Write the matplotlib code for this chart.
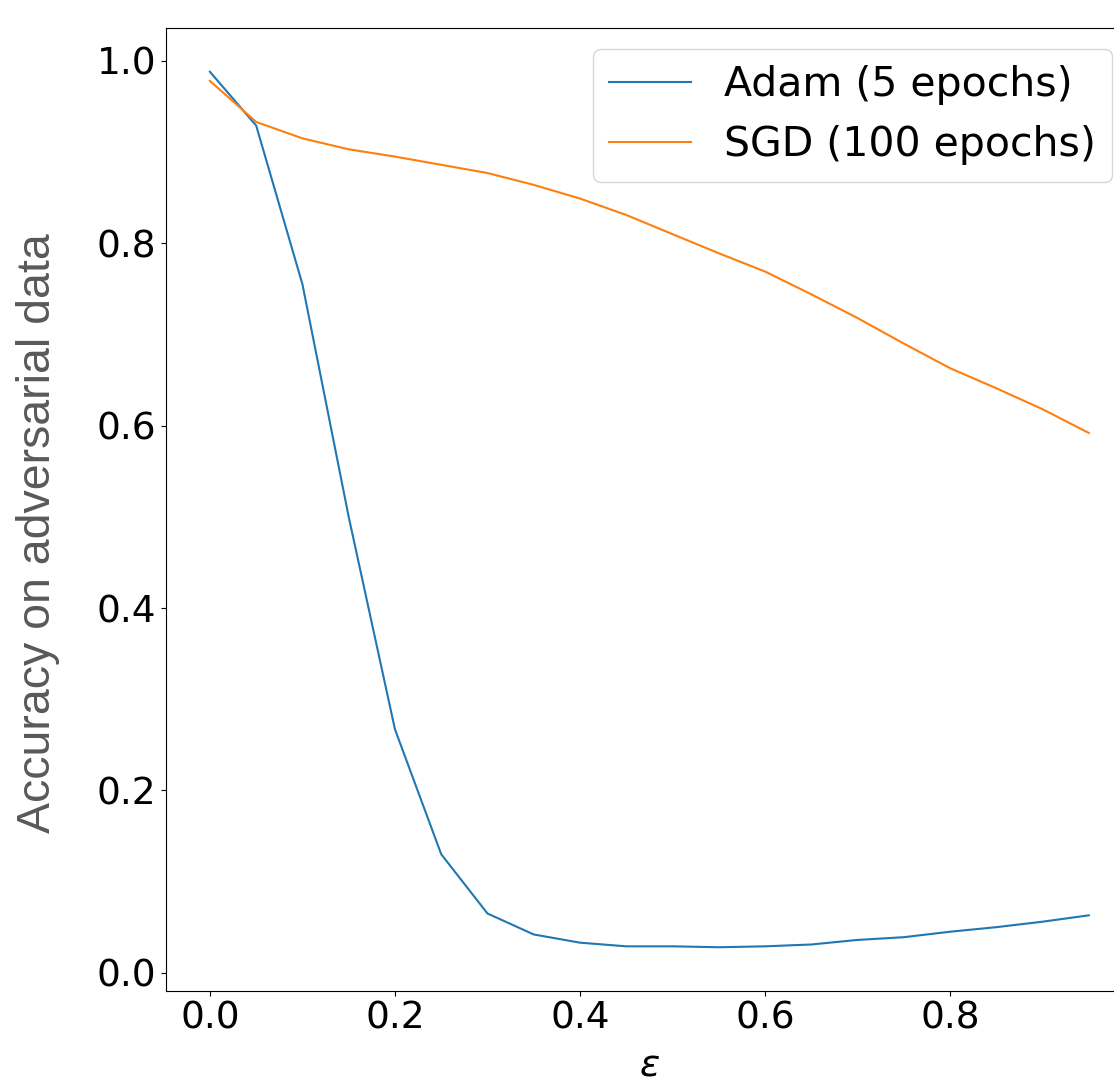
import matplotlib
matplotlib.use("Agg")
import matplotlib.pyplot as plt

# === Data ===
eps = [0.00, 0.05, 0.10, 0.15, 0.20, 0.25, 0.30, 0.35, 0.40, 0.45,
       0.50, 0.55, 0.60, 0.65, 0.70, 0.75, 0.80, 0.85, 0.90, 0.95]
adam_acc = [0.988, 0.929, 0.755, 0.500, 0.267, 0.130, 0.065, 0.042, 0.033, 0.029,
            0.029, 0.028, 0.029, 0.031, 0.036, 0.039, 0.045, 0.050, 0.056, 0.063]
sgd_acc = [0.978, 0.933, 0.915, 0.903, 0.895, 0.886, 0.877, 0.864, 0.849, 0.831,
           0.810, 0.789, 0.769, 0.744, 0.718, 0.690, 0.663, 0.641, 0.618, 0.592]

fig = plt.figure(figsize=(11.14, 10.82), dpi=100)
ax = fig.add_axes([0.149, 0.0841, 0.8678, 0.8900])

ax.plot(eps, adam_acc, label="Adam (5 epochs)")
ax.plot(eps, sgd_acc, label="SGD (100 epochs)")

ax.tick_params(labelsize=27)
ax.set_xlabel(r"$\varepsilon$", fontsize=27, labelpad=8)
ax.legend(loc="upper right", fontsize=29.5)

# y label was set in a different font and grey
fig.text(38 / 1114, 1 - 533 / 1082, "Accuracy on adversarial data",
         rotation=90, ha="center", va="center", fontsize=33.5,
         family="Liberation Sans", color="#595959")

plt.savefig("out.png", dpi=100)
